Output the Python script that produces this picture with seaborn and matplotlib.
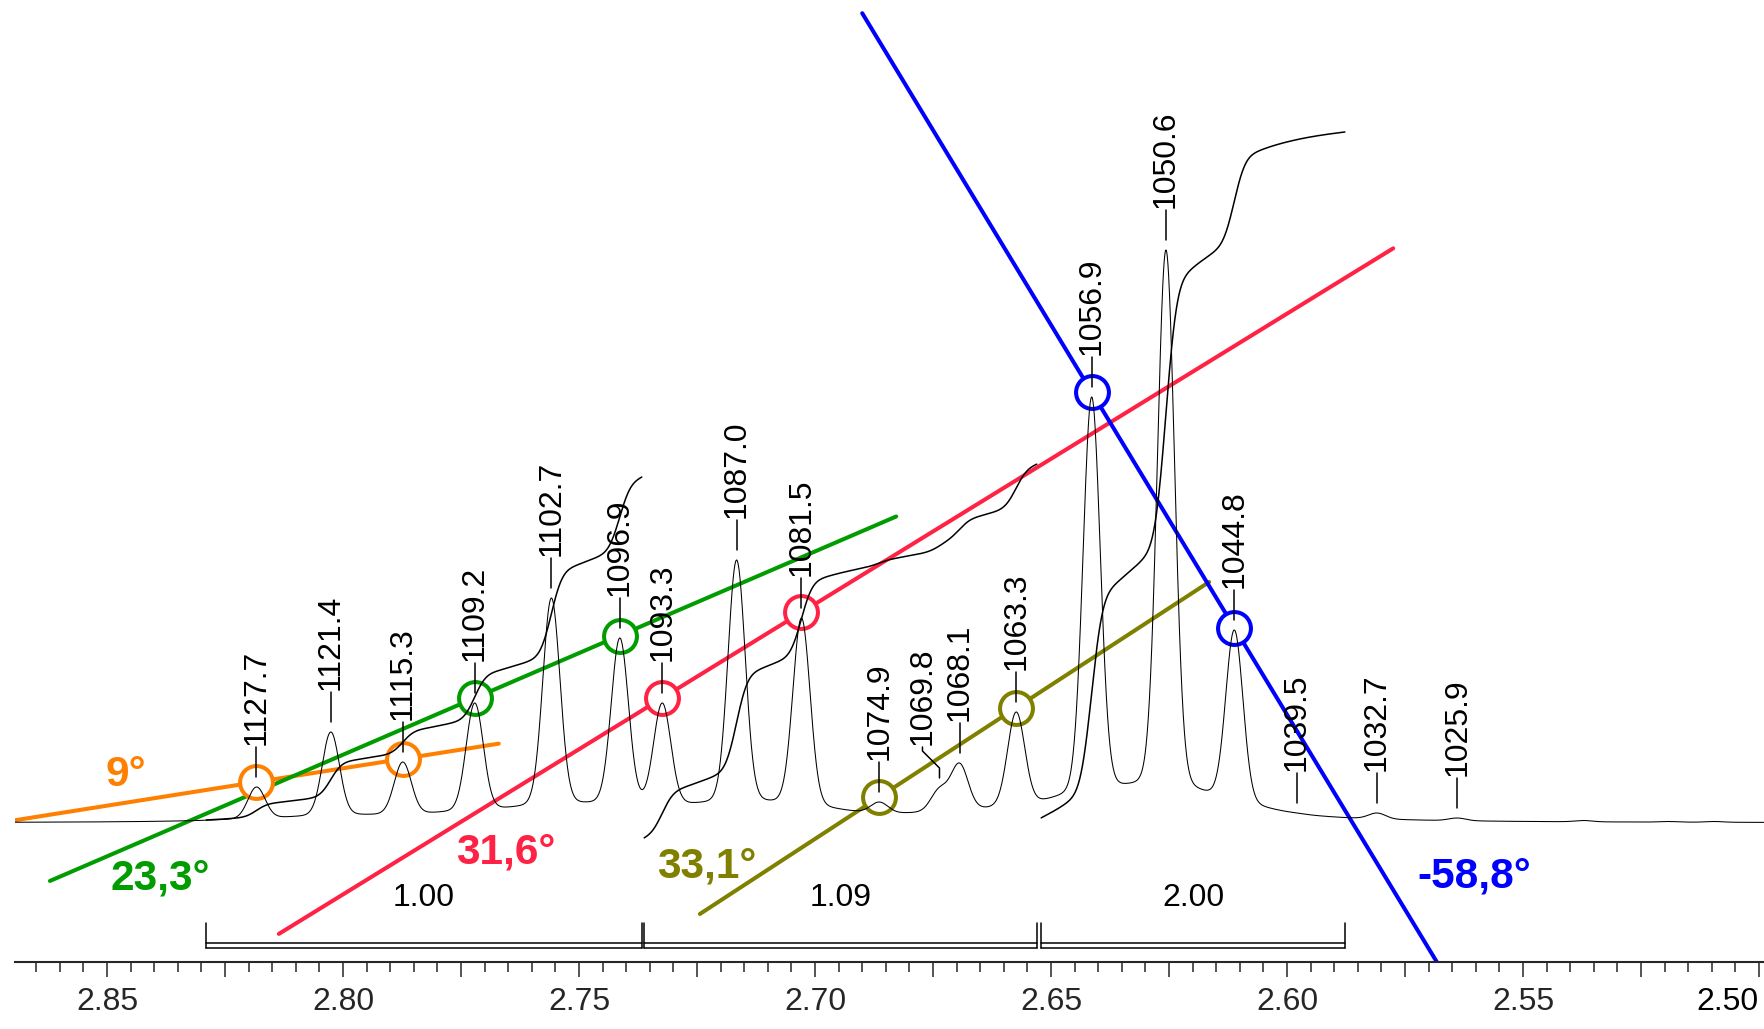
import numpy as np
import matplotlib
matplotlib.use("Agg")
import matplotlib.pyplot as plt
import seaborn as sns
from matplotlib.ticker import FixedLocator, FuncFormatter

# ---------------------------------------------------------------- data
SPEC_MHZ = 400.13  # spectrometer frequency, Hz -> ppm

# labelled peaks (Hz) and their heights (intensity, arbitrary units)
peak_hz = [1127.7, 1121.4, 1115.3, 1109.2, 1102.7, 1096.9, 1093.3, 1087.0, 1081.5,
           1074.9, 1069.8, 1068.1, 1063.3, 1056.9, 1050.6, 1044.8, 1039.5, 1032.7, 1025.9]
peak_height = [36, 91, 61, 120, 225, 185, 120, 263, 205,
               21, 36, 60, 111, 426, 573, 193, 10, 10, 5]

# small unlabelled ripples in the baseline
ripple_hz = [1015.2, 1008.0, 1004.1]
ripple_height = [2.5, 1.5, 1.5]

# integration regions (ppm) and integral values
integral_from = [2.8290, 2.7362, 2.6521]
integral_to = [2.7367, 2.6530, 2.5877]
integral_value = [1.00, 1.09, 2.00]

# coupling lines: angle, the two peaks they join
coupling_angle = [9.0, 23.3, 31.6, 33.1, -58.8]
coupling_label = ["9°", "23,3°", "31,6°", "33,1°", "-58,8°"]
coupling_peaks = [(1127.7, 1115.3), (1109.2, 1096.9), (1093.3, 1081.5),
                  (1074.9, 1063.3), (1056.9, 1044.8)]

# ---------------------------------------------------------------- layout / style
coupling_color = ["#FF8000", "#009C00", "#FF2244", "#808000", "#0000FF"]
coupling_extent = [(2.8698, 2.7670), (2.8621, 2.6828), (2.8136, 2.5775),
                   (2.7244, 2.6165), (2.6900, 2.5598)]
coupling_text_pos = [(2.8460, 48), (2.8388, -56), (2.7655, -30),
                     (2.7229, -44), (2.5604, -54)]
integral_start = [3, -15, 5]       # vertical offset of each integral trace
INTEGRAL_SCALE = 343               # intensity units per integral unit
label_shift_px = {1069.8: -17}     # sideways shift of crowded peak labels
PX_PER_PPM = 4720

sns.set_style("white")
plt.rcParams["font.family"] = ["Liberation Sans", "DejaVu Sans"]

fig = plt.figure(figsize=(17.64, 10.29), dpi=100)
ax = fig.add_axes([15 / 1764, 67 / 1029, 1 - 15 / 1764, 962 / 1029])
ax.set_xlim(2.8695, 2.49894)
ax.set_ylim(-139, 823)

# ---------------------------------------------------------------- spectrum
def line_shape(f, c, g_fwhm=1.7, l_hw=4.0, eta=0.06):
    """Gaussian core with a weak broad Lorentzian foot."""
    g = np.exp(-np.log(2) * ((f - c) / (g_fwhm / 2)) ** 2)
    lor = 1.0 / (1 + ((f - c) / l_hw) ** 2)
    return (1 - eta) * g + eta * lor

ppm = np.linspace(2.8695, 2.4990, 8000)
hz = ppm * SPEC_MHZ
centres = np.array(peak_hz + ripple_hz)
targets = np.array(peak_height + ripple_height, dtype=float)
amps = np.linalg.solve(line_shape(centres[:, None], centres[None, :]), targets)
spec = line_shape(hz[:, None], centres[None, :]) @ amps

sns.lineplot(x=ppm, y=spec, ax=ax, color="black", linewidth=0.75,
             sort=False, estimator=None, zorder=4)

def top_at(p):
    return float(np.interp(p, ppm[::-1], spec[::-1]))

# ---------------------------------------------------------------- integrals
for lo, hi, val, y0 in zip(integral_from, integral_to, integral_value, integral_start):
    m = (ppm <= lo) & (ppm >= hi)
    cum = np.cumsum(spec[m])
    cum = cum / cum[-1]
    sns.lineplot(x=ppm[m], y=y0 + val * INTEGRAL_SCALE * cum, ax=ax, color="black",
                 linewidth=1.1, sort=False, estimator=None, zorder=4)
    # bracket under the region
    for yy in (-120, -125):
        ax.plot([lo, hi], [yy, yy], color="black", lw=1.1, zorder=4)
    for xx in (lo, hi):
        ax.plot([xx, xx], [-100, -125], color="black", lw=1.1, zorder=4)
    ax.text((lo + hi) / 2, -90, f"{val:.2f}", ha="center", va="bottom",
            fontsize=23, color="black")

# ---------------------------------------------------------------- coupling lines
for ang, lab, (h1, h2), col, (xs, xe), (tx, ty) in zip(
        coupling_angle, coupling_label, coupling_peaks, coupling_color,
        coupling_extent, coupling_text_pos):
    x1 = h1 / SPEC_MHZ
    y1 = top_at(x1) + 5
    p0 = ax.transData.transform((x1, y1))
    d = np.array([np.cos(np.radians(ang)), np.sin(np.radians(ang))])
    xb, yb = ax.transData.inverted().transform(p0 + 100 * d)
    slope = (yb - y1) / (xb - x1)
    xl = np.array([xs, xe])
    sns.lineplot(x=xl, y=y1 + slope * (xl - x1), ax=ax, color=col, linewidth=2.9,
                 sort=False, estimator=None, zorder=2)
    cx = np.array([h1, h2]) / SPEC_MHZ
    cy = y1 + slope * (cx - x1)
    ax.scatter(cx, cy, s=560, facecolor="white", edgecolor=col, linewidth=2.9, zorder=3)
    ax.text(tx, ty, lab, color=col, fontsize=30.5, fontweight="bold",
            ha="center", va="center")

# ---------------------------------------------------------------- peak labels
for f in peak_hz:
    x = f / SPEC_MHZ
    t = top_at(x)
    shift = label_shift_px.get(f, 0) / PX_PER_PPM
    if shift:
        xt = x - shift
        ax.plot([x, x, xt, xt], [t + 9, t + 19, t + 36, t + 40],
                color="black", lw=1.1, zorder=5)
    else:
        xt = x
        ax.plot([x, x], [t + 10, t + 40], color="black", lw=1.1, zorder=5)
    ax.text(xt, t + 42, f"{f:.1f}", rotation=90, ha="center", va="bottom",
            fontsize=23, color="black", zorder=5)

# ---------------------------------------------------------------- axis
for s in ("top", "right", "left"):
    ax.spines[s].set_visible(False)
ax.spines["bottom"].set_linewidth(1.5)
ax.set_yticks([])
major = np.round(np.arange(2.85, 2.4999, -0.025), 3)
minor = np.round(np.arange(2.865, 2.4999, -0.005), 3)
ax.xaxis.set_major_locator(FixedLocator(major))
ax.xaxis.set_minor_locator(FixedLocator(minor))

def tick_text(v, _):
    # every 0.05 ppm is labelled; the right-most one is placed separately
    if abs(round(v / 0.05) * 0.05 - v) < 1e-6 and v > 2.51:
        return f"{v:.2f}"
    return ""

ax.xaxis.set_major_formatter(FuncFormatter(tick_text))
ax.tick_params(axis="x", which="major", direction="out", length=10.8, width=1.1,
               labelsize=23, pad=7, bottom=True)
ax.tick_params(axis="x", which="minor", direction="out", length=7.2, width=1.1,
               bottom=True)
ax.annotate(f"{major[-1]:.2f}", xy=(major[-1], 0), xycoords=("data", "axes fraction"),
            xytext=(0, -17.8), textcoords="offset points", ha="right", va="top",
            fontsize=23, color="black")
ax.set_xlabel("")
ax.set_ylabel("")
ax.patch.set_alpha(0)

fig.savefig("out.png", dpi=100, facecolor="white")
